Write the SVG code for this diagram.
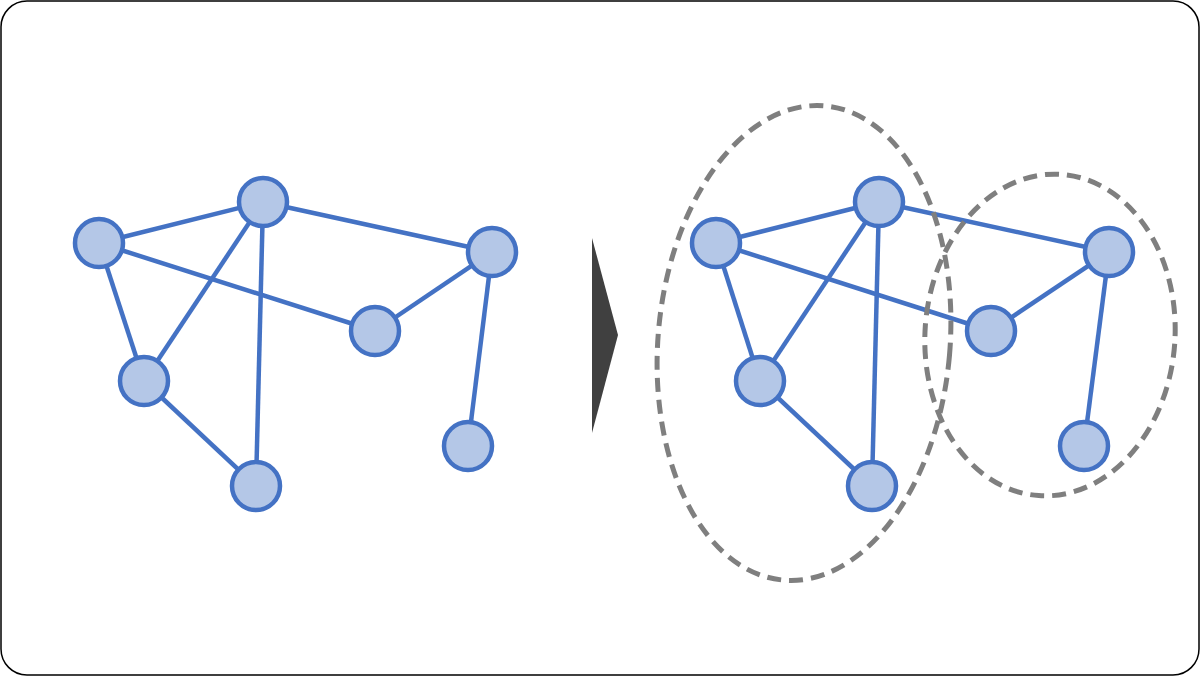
<svg xmlns="http://www.w3.org/2000/svg" width="1200" height="676" viewBox="0 0 1200 676">
<style>
.n{fill:#b4c7e7;stroke:#4472c4;stroke-width:4.5}
.e line{stroke:#4472c4;stroke-width:4.5}
.g{fill:none;stroke:#7f7f7f;stroke-width:5;stroke-dasharray:14 8}
</style>
<rect x="1" y="1" width="1198" height="674" rx="26" fill="#fff" stroke="#000" stroke-width="1.5"/>
<g id="connectors-left" class="e">
<line x1="99" y1="243" x2="263" y2="202"/>
<line x1="263" y1="202" x2="492" y2="252"/>
<line x1="99" y1="243" x2="375" y2="331"/>
<line x1="375" y1="331" x2="492" y2="252"/>
<line x1="99" y1="243" x2="144" y2="381"/>
<line x1="144" y1="381" x2="263" y2="202"/>
<line x1="263" y1="202" x2="256" y2="486"/>
<line x1="144" y1="381" x2="256" y2="486"/>
<line x1="492" y1="252" x2="468" y2="446"/>
</g>
<g id="connectors-right" class="e">
<line x1="716" y1="243" x2="879" y2="202"/>
<line x1="879" y1="202" x2="1109" y2="252"/>
<line x1="716" y1="243" x2="991" y2="331"/>
<line x1="991" y1="331" x2="1109" y2="252"/>
<line x1="716" y1="243" x2="760" y2="381"/>
<line x1="760" y1="381" x2="879" y2="202"/>
<line x1="879" y1="202" x2="872" y2="486"/>
<line x1="760" y1="381" x2="872" y2="486"/>
<line x1="1109" y1="252" x2="1084" y2="446"/>
</g>
<g id="left-nodes">
<circle id="L1" class="n" cx="99" cy="243" r="24"/>
<circle id="L2" class="n" cx="263" cy="202" r="24"/>
<circle id="L3" class="n" cx="492" cy="252" r="24"/>
<circle id="L4" class="n" cx="375" cy="331" r="24"/>
<circle id="L5" class="n" cx="144" cy="381" r="24"/>
<circle id="L6" class="n" cx="256" cy="486" r="24"/>
<circle id="L7" class="n" cx="468" cy="446" r="24"/>
</g>
<polygon id="arrow" points="592,238 618,335 592,433" fill="#404040"/>
<g id="right-nodes">
<circle id="R1" class="n" cx="716" cy="243" r="24"/>
<circle id="R2" class="n" cx="879" cy="202" r="24"/>
<circle id="R3" class="n" cx="1109" cy="252" r="24"/>
<circle id="R4" class="n" cx="991" cy="331" r="24"/>
<circle id="R5" class="n" cx="760" cy="381" r="24"/>
<circle id="R6" class="n" cx="872" cy="486" r="24"/>
<circle id="R7" class="n" cx="1084" cy="446" r="24"/>
</g>
<g id="clusters">
<ellipse id="cluster1" class="g" cx="804" cy="343" rx="146" ry="238" transform="rotate(5 804 343)"/>
<ellipse id="cluster2" class="g" cx="1050" cy="335" rx="125" ry="161" transform="rotate(4 1050 335)"/>
</g>
</svg>
